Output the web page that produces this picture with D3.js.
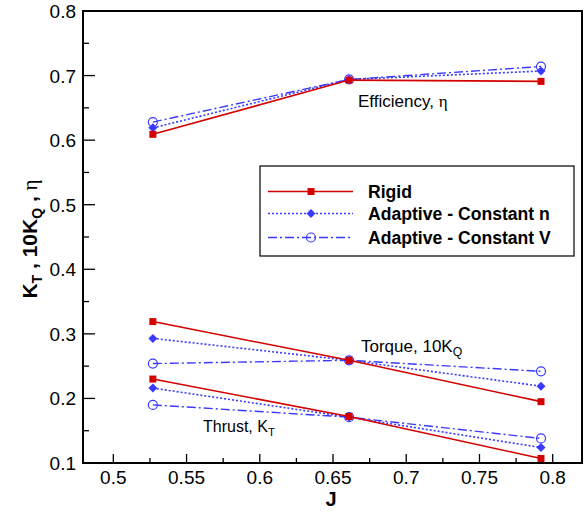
<!DOCTYPE html>
<html><head><meta charset="utf-8">
<script src="https://cdn.jsdelivr.net/npm/d3@7"></script>
<style>body{margin:0;background:#fff}svg{display:block}</style>
</head><body>
<script>
const J = [0.527, 0.661, 0.792];
const seriesNames = ["Rigid", "Adaptive - Constant n", "Adaptive - Constant V"];
// Efficiency
const effRigid = [0.609, 0.693, 0.691];
const effConstN = [0.619, 0.694, 0.707];
const effConstV = [0.628, 0.694, 0.714];
// Torque 10KQ
const torRigid = [0.319, 0.259, 0.195];
const torConstN = [0.293, 0.259, 0.219];
const torConstV = [0.254, 0.259, 0.242];
// Thrust KT
const thrRigid = [0.230, 0.172, 0.107];
const thrConstN = [0.216, 0.171, 0.124];
const thrConstV = [0.190, 0.171, 0.138];
const xTicks = [0.5, 0.55, 0.6, 0.65, 0.7, 0.75, 0.8];
const yTicks = [0.1, 0.2, 0.3, 0.4, 0.5, 0.6, 0.7, 0.8];

const W = 587, H = 512;
const m = {l: 83, t: 11, r: 5, b: 49};
const svg = d3.select("body").append("svg").attr("width", W).attr("height", H);
const x = d3.scaleLinear().domain([0.4793, 0.8200]).range([m.l, W - m.r]);
const y = d3.scaleLinear().domain([0.1, 0.8]).range([H - m.b, m.t]);

const red = "#d40000", blue = "#3a3aff";
const styles = [
  {color: red, dash: null, marker: "square", w: 1.6},
  {color: blue, dash: "2,2", marker: "diamond", w: 1.6},
  {color: blue, dash: "9,3,2,3", marker: "circle", w: 1.4}
];
const groups = [
  [effRigid, effConstN, effConstV],
  [torRigid, torConstN, torConstV],
  [thrRigid, thrConstN, thrConstV]
];

const f = "Arial, 'Liberation Sans', sans-serif";

const g = svg.append("g");
d3.range(0.1, 0.8001, 0.05).forEach(v => {
  const major = Math.abs(Math.round(v * 10) - v * 10) < 1e-6;
  g.append("line").attr("x1", x.range()[0]).attr("x2", x.range()[0] + (major ? 12 : 6))
    .attr("y1", y(v)).attr("y2", y(v)).attr("stroke", "#000").attr("stroke-width", 1.3);
});
d3.range(0.5, 0.8001, 0.025).forEach(v => {
  const major = Math.abs(Math.round(v * 20) - v * 20) < 1e-6;
  g.append("line").attr("y1", y.range()[0]).attr("y2", y.range()[0] - (major ? 9 : 5))
    .attr("x1", x(v)).attr("x2", x(v)).attr("stroke", "#000").attr("stroke-width", 1.3);
});
yTicks.forEach(v => {
  svg.append("text").attr("x", 76).attr("y", y(v) + 7).attr("text-anchor", "end")
    .attr("font-family", f).attr("font-size", 19).text(d3.format(".1f")(v));
});
xTicks.forEach(v => {
  svg.append("text").attr("x", x(v)).attr("y", 484).attr("text-anchor", "middle")
    .attr("font-family", f).attr("font-size", 19).text(String(v));
});

svg.append("rect").attr("x", m.l).attr("y", m.t).attr("width", W - m.r - m.l).attr("height", H - m.b - m.t)
  .attr("fill", "none").attr("stroke", "#000").attr("stroke-width", 2);

function marker(sel, type, color, cx, cy) {
  if (type === "square") sel.append("rect").attr("x", cx - 3.5).attr("y", cy - 3.5).attr("width", 7).attr("height", 7).attr("fill", color);
  else if (type === "diamond") sel.append("path").attr("d", `M${cx},${cy-4.5}L${cx+4.5},${cy}L${cx},${cy+4.5}L${cx-4.5},${cy}Z`).attr("fill", color);
  else sel.append("circle").attr("cx", cx).attr("cy", cy).attr("r", 4.5).attr("fill", "none").attr("stroke", color).attr("stroke-width", 1.2);
}

const line = d3.line().x((d, i) => x(J[i])).y(d => y(d));
groups.forEach(grp => {
  [2, 1, 0].forEach(si => {
    const s = styles[si], vals = grp[si];
    svg.append("path").attr("d", line(vals)).attr("fill", "none").attr("stroke", s.color)
      .attr("stroke-width", s.w).attr("stroke-dasharray", s.dash);
    vals.forEach((v, i) => marker(svg, s.marker, s.color, x(J[i]), y(v)));
  });
});

function ann(xp, yp, size, main, sub, greek) {
  const t = svg.append("text").attr("x", xp).attr("y", yp).attr("font-family", f).attr("font-size", size);
  t.append("tspan").text(main);
  if (sub) t.append("tspan").attr("font-size", size * 0.72).attr("dy", 4).text(sub);
  if (greek) t.append("tspan").attr("font-family", "'Times New Roman','Liberation Serif',serif").attr("font-size", size).text(greek);
}
ann(358, 107, 17, "Efficiency, ", null, "η");
ann(361, 352, 17, "Torque, 10K", "Q", null);
ann(203, 432, 16, "Thrust, K", "T", null);

const lg = svg.append("g");
lg.append("rect").attr("x", 260).attr("y", 166).attr("width", 314).attr("height", 90)
  .attr("fill", "#fff").attr("stroke", "#000").attr("stroke-width", 1.2);
const rowsY = [191.5, 213.5, 237.5];
seriesNames.forEach((n, i) => {
  const s = styles[i];
  lg.append("line").attr("x1", 268).attr("x2", 353).attr("y1", rowsY[i]).attr("y2", rowsY[i])
    .attr("stroke", s.color).attr("stroke-width", s.w).attr("stroke-dasharray", s.dash);
  marker(lg, s.marker, s.color, 311, rowsY[i]);
  lg.append("text").attr("x", 368).attr("y", rowsY[i] + 6).attr("font-family", f)
    .attr("font-size", 17.6).attr("font-weight", "bold").text(n);
});

svg.append("text").attr("x", 331).attr("y", 506).attr("text-anchor", "middle").attr("font-family", f)
  .attr("font-size", 20).attr("font-weight", "bold").text("J");
const yl = svg.append("text").attr("transform", "translate(37,239) rotate(-90)").attr("text-anchor", "middle")
  .attr("font-family", f).attr("font-size", 21).attr("font-weight", "bold");
yl.append("tspan").text("K");
yl.append("tspan").attr("font-size", 14).attr("dy", 5).text("T");
yl.append("tspan").attr("dy", -5).text(" , 10K");
yl.append("tspan").attr("font-size", 14).attr("dy", 5).text("Q");
yl.append("tspan").attr("dy", -5).text(" , ");
yl.append("tspan").attr("font-weight", "normal").attr("font-family", "'Times New Roman','Liberation Serif',serif").text("η");
</script>
</body></html>
